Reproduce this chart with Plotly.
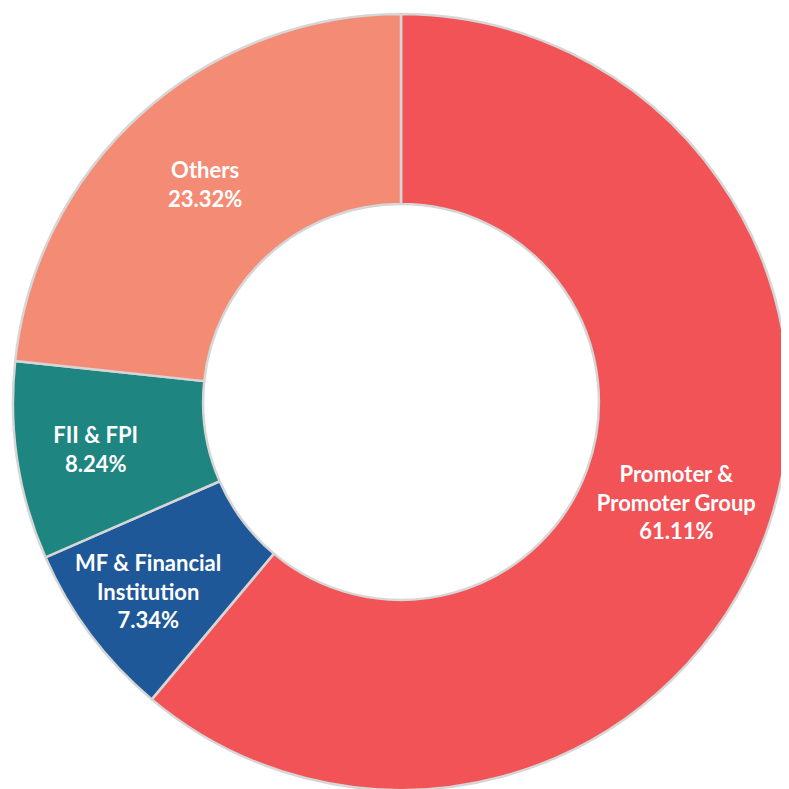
import plotly.graph_objects as go

labels = ["Promoter &<br>Promoter Group", "MF & Financial<br>Institution", "FII & FPI", "Others"]
values = [61.11, 7.34, 8.24, 23.32]
colors = ["#F15356", "#1F5899", "#1E8581", "#F48C75"]

fig = go.Figure(go.Pie(
    labels=labels,
    values=values,
    hole=0.51,
    sort=False,
    direction="clockwise",
    rotation=0,
    marker=dict(colors=colors, line=dict(color="#d6d6d6", width=2.5)),
    texttemplate="<b>%{label}<br>%{value:.2f}%</b>",
    textposition="inside",
    insidetextorientation="horizontal",
    textfont=dict(family="Lato", size=22, color="white"),
    showlegend=False,
    hoverinfo="skip",
))
fig.update_layout(
    width=789, height=789,
    margin=dict(l=5, r=8, t=6, b=7),
    paper_bgcolor="white",
    uniformtext=dict(minsize=22, mode="show"),
)
fig.write_html("out.html")
